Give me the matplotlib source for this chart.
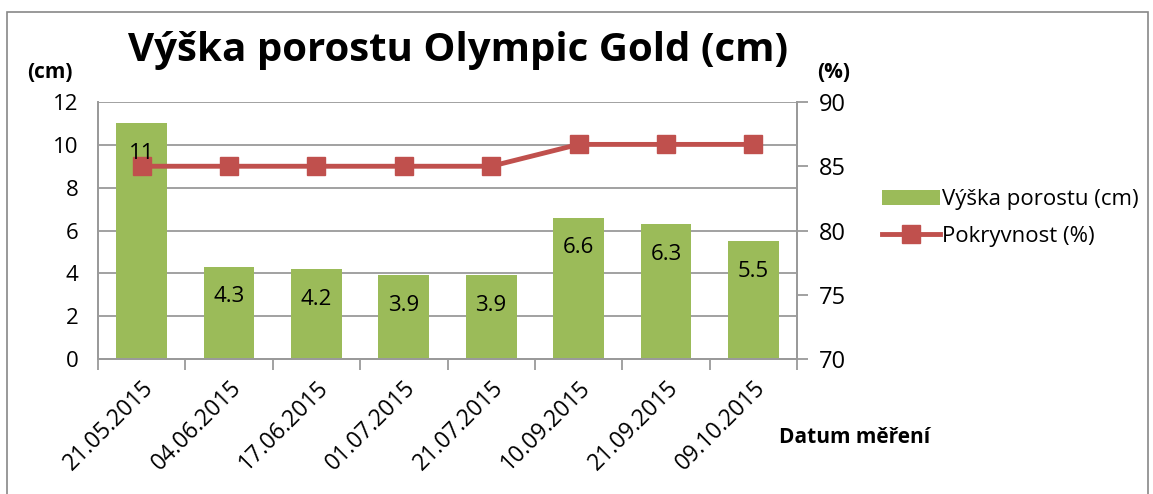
import numpy as np
import matplotlib.pyplot as plt
from matplotlib.lines import Line2D
from matplotlib.patches import Patch

# Data
dates = ['21.05.2015', '04.06.2015', '17.06.2015', '01.07.2015',
         '21.07.2015', '10.09.2015', '21.09.2015', '09.10.2015']
height_cm = [11, 4.3, 4.2, 3.9, 3.9, 6.6, 6.3, 5.5]
cover_pct = [85, 85, 85, 85, 85, 86.7, 86.7, 86.7]

green = '#9bbb59'
red = '#c0504d'
grid_col = '#9a9a9a'

plt.rcParams['font.family'] = ['Open Sans', 'DejaVu Sans']

fig = plt.figure(figsize=(11.53, 4.94), dpi=100)
ax = fig.add_axes([98 / 1153, 1 - 359 / 494, (797 - 98) / 1153, (359 - 102) / 494])
ax2 = ax.twinx()

x = np.arange(len(dates))
ax.bar(x, height_cm, width=0.58, color=green, zorder=2)

ax2.plot(x, cover_pct, color=red, lw=3.5, marker='s', markersize=13,
         markerfacecolor=red, markeredgecolor=red, zorder=4)

# value labels (drawn on the top axes so they sit over the line)
for xi, v in zip(x, height_cm):
    ax2.text(xi, 70 + (v - 1.4) * 20 / 12, f'{v:g}', ha='center', va='center',
             fontsize=16, zorder=6)

ax.set_xlim(-0.5, len(dates) - 0.5)
ax.set_ylim(0, 12)
ax.set_yticks(np.arange(0, 13, 2))
ax2.set_ylim(70, 90)
ax2.set_yticks(np.arange(70, 91, 5))

ax.set_xticks(np.arange(-0.5, len(dates), 1))
ax.set_xticklabels([])
ax.set_xticks(x, minor=True)
ax.set_xticklabels(dates, minor=True, rotation=45, ha='right', rotation_mode='anchor',
                   fontsize=16.5)
ax.tick_params(axis='x', which='minor', length=0, pad=12)
ax.tick_params(axis='x', which='major', length=8, color=grid_col, width=1.3)
ax.tick_params(axis='y', length=0, labelsize=16, pad=14)
ax2.tick_params(axis='y', length=8, color=grid_col, width=1.3, labelsize=17, pad=8)

ax.yaxis.grid(True, color=grid_col, lw=1.3, zorder=0)
ax.set_axisbelow(True)
ax2.set_zorder(ax.get_zorder() + 1)
ax2.patch.set_visible(False)

for a in (ax, ax2):
    a.spines['top'].set_visible(False)
    for s in ('left', 'right', 'bottom'):
        a.spines[s].set_color(grid_col)
        a.spines[s].set_linewidth(1.3)

fig.text(458 / 1153, 1 - 50 / 494, 'Výška porostu Olympic Gold (cm)', ha='center',
         va='center', fontsize=29, fontweight='bold')
fig.text(50 / 1153, 1 - 73 / 494, '(cm)', ha='center', va='center', fontsize=15,
         fontweight='bold')
fig.text(834 / 1153, 1 - 73 / 494, '(%)', ha='center', va='center', fontsize=15,
         fontweight='bold')
fig.text(855 / 1153, 1 - 437 / 494, 'Datum měření', ha='center', va='center', fontsize=15,
         fontweight='bold')

handles = [Patch(facecolor=green),
           Line2D([0], [0], color=red, lw=3.5, marker='s', markersize=13)]
fig.legend(handles, ['Výška porostu (cm)', 'Pokryvnost (%)'],
           loc='center left', bbox_to_anchor=(862 / 1153, 1 - 218 / 494),
           frameon=False, fontsize=16, handlelength=2.6, handletextpad=0.1,
           labelspacing=0.7)

# Chart area border
fig.add_artist(plt.Rectangle((7 / 1153, -0.01), 1141 / 1153, 1 - 12 / 494 + 0.01,
                             transform=fig.transFigure, fill=False,
                             edgecolor='#888888', lw=1.2))

fig.savefig('out.png', dpi=100)
